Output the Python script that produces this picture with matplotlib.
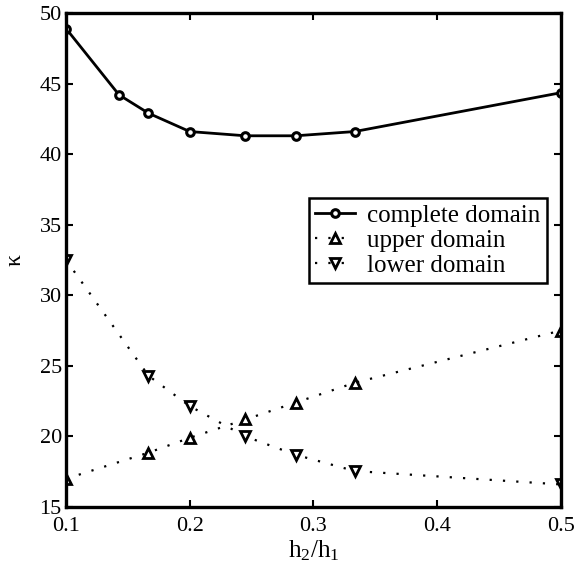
import matplotlib
matplotlib.use("Agg")
import matplotlib.pyplot as plt

plt.rcParams['font.family'] = ['Liberation Serif', 'DejaVu Serif']
plt.rcParams['mathtext.fontset'] = 'custom'
plt.rcParams['mathtext.rm'] = 'Liberation Serif'
plt.rcParams['mathtext.it'] = 'Liberation Serif:italic'

x_complete = [0.1, 1/7, 1/6, 0.2, 0.245, 2/7, 1/3, 0.5]
k_complete = [48.9, 44.2, 42.9, 41.6, 41.3, 41.3, 41.6, 44.35]

x_upper = [0.1, 1/6, 0.2, 0.245, 2/7, 1/3, 0.5]
k_upper = [17.0, 18.85, 19.9, 21.2, 22.4, 23.8, 27.5]

x_lower = [0.1, 1/6, 0.2, 0.245, 2/7, 1/3, 0.5]
k_lower = [32.5, 24.3, 22.15, 20.0, 18.7, 17.55, 16.6]

xticks = [0.1, 0.2, 0.3, 0.4, 0.5]
yticks = [15, 20, 25, 30, 35, 40, 45, 50]

fig = plt.figure(figsize=(5.74, 5.77), dpi=100)
ax = fig.add_axes([0.115, 0.1213, 0.862, 0.8562])

dots = (0, (1, 5))
ax.plot(x_complete, k_complete, '-', color='black', lw=2, marker='o',
        markersize=5.5, markerfacecolor='white', markeredgewidth=2.2, label='complete domain')
ax.plot(x_upper, k_upper, linestyle=dots, color='black', lw=1.6, marker='^',
        markersize=7.5, markerfacecolor='white', markeredgewidth=2, label='upper domain')
ax.plot(x_lower, k_lower, linestyle=dots, color='black', lw=1.6, marker='v',
        markersize=7.5, markerfacecolor='white', markeredgewidth=2, label='lower domain')

ax.set_xlim(0.1, 0.5)
ax.set_ylim(15, 50)
ax.set_xticks(xticks)
ax.set_yticks(yticks)
ax.set_xticklabels([f'{v:.1f}' for v in xticks])
ax.tick_params(direction='in', top=True, right=True, labelsize=16, length=5, width=1.5)
ax.tick_params(axis='x', pad=7)
ax.tick_params(axis='y', pad=3)
for s in ax.spines.values():
    s.set_linewidth(2.4)

ax.set_xlabel('h$_2$/h$_1$', fontsize=18, labelpad=2)
ax.set_ylabel('κ', fontsize=17, rotation=90, labelpad=10)

leg = ax.legend(loc='upper right', bbox_to_anchor=(0.972, 0.6255), fontsize=18,
                frameon=True, fancybox=False, edgecolor='black', framealpha=1,
                handlelength=1.6, borderpad=0.25, labelspacing=0.1, handletextpad=0.5,
                borderaxespad=0)
leg.get_frame().set_linewidth(1.8)

fig.savefig('out.png', dpi=100)
